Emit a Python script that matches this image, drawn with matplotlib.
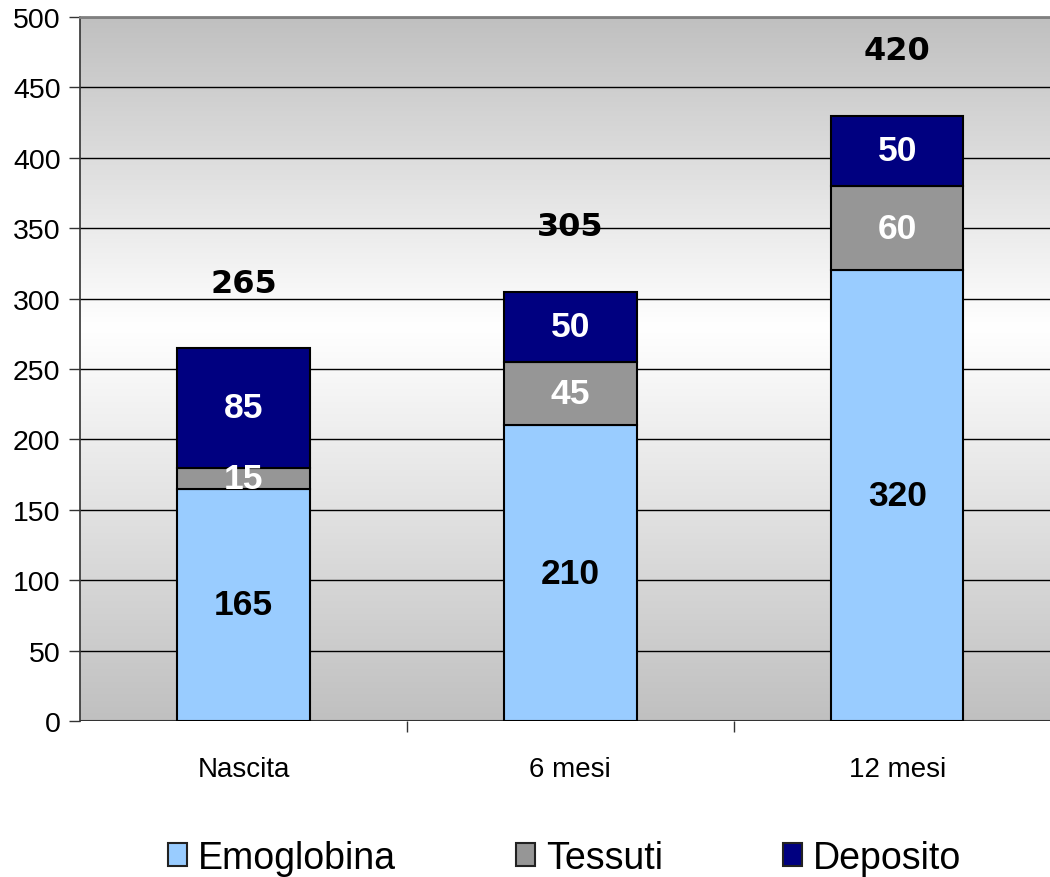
import numpy as np
import matplotlib
matplotlib.use('Agg')
import matplotlib.pyplot as plt
from matplotlib.colors import LinearSegmentedColormap
from matplotlib.patches import Patch

categories = ['Nascita', '6 mesi', '12 mesi']
emoglobina = [165, 210, 320]
tessuti = [15, 45, 60]
deposito = [85, 50, 50]
totali = ['265', '305', '420']

series = [
    ('Emoglobina', emoglobina, '#99ccff', 'black'),
    ('Tessuti', tessuti, '#969696', 'white'),
    ('Deposito', deposito, '#000080', 'white'),
]

plt.rcParams['font.family'] = ['Liberation Sans', 'DejaVu Sans']

fig = plt.figure(figsize=(10.5, 8.78), dpi=100)
ax = fig.add_axes([0.0762, 0.1777, 0.934, 0.8018])

# grey-white-grey vertical shading behind the bars
bg = LinearSegmentedColormap.from_list('bg', [(0, '#c0c0c0'), (0.56, '#ffffff'), (1, '#c0c0c0')])
grad = np.linspace(0, 1, 256).reshape(-1, 1)
ax.imshow(grad, cmap=bg, aspect='auto', origin='lower', extent=(0, 1, 0, 1),
          transform=ax.transAxes, zorder=0)

x = np.arange(len(categories))
bottom = np.zeros(len(categories))
for name, vals, color, txt in series:
    vals = np.array(vals, dtype=float)
    ax.bar(x, vals, width=0.405, bottom=bottom, color=color, edgecolor='black',
           linewidth=1.5, zorder=3, label=name)
    for xi, b, v in zip(x, bottom, vals):
        ax.text(xi, b + v / 2, '%d' % v, ha='center', va='center', color=txt,
                fontsize=25.5, fontweight='bold', zorder=4)
    bottom += vals

# totals above each stack
for xi, top, lab in zip(x, bottom, totali):
    ax.text(xi, top + 46, lab, ha='center', va='center', fontsize=23,
            fontweight='bold', family='DejaVu Sans', zorder=4)

ax.set_xlim(-0.5, 2.5)
ax.set_ylim(0, 500)
ax.set_yticks(np.arange(0, 501, 50))
ax.yaxis.grid(True, color='black', linewidth=1.0, zorder=1)
ax.set_axisbelow(True)

ax.set_xticks(x)
ax.set_xticklabels(categories)
ax.set_xticks([0.5, 1.5], minor=True)
ax.tick_params(axis='x', which='major', length=0, pad=25, labelsize=20)
ax.tick_params(axis='x', which='minor', length=8, width=1, color='#333333')
ax.tick_params(axis='y', length=8, width=1, color='#333333', labelsize=20.5, pad=6)

for s in ['right', 'bottom']:
    ax.spines[s].set_visible(False)
ax.spines['top'].set_color('#808080')
ax.spines['top'].set_linewidth(2)
ax.spines['left'].set_color('#333333')
ax.spines['left'].set_linewidth(1.2)
ax.axhline(0, color='#333333', linewidth=1.5, zorder=2)

handles = [Patch(facecolor=c, edgecolor='#222222', linewidth=1.5) for _, _, c, _ in series]
fig.legend(handles, [n for n, _, _, _ in series], loc='center', bbox_to_anchor=(0.538, 0.022),
           ncol=3, frameon=False, fontsize=27, handlelength=0.5, handleheight=0.6,
           handletextpad=0.3, columnspacing=3.2)

fig.savefig('out.png', dpi=100)
